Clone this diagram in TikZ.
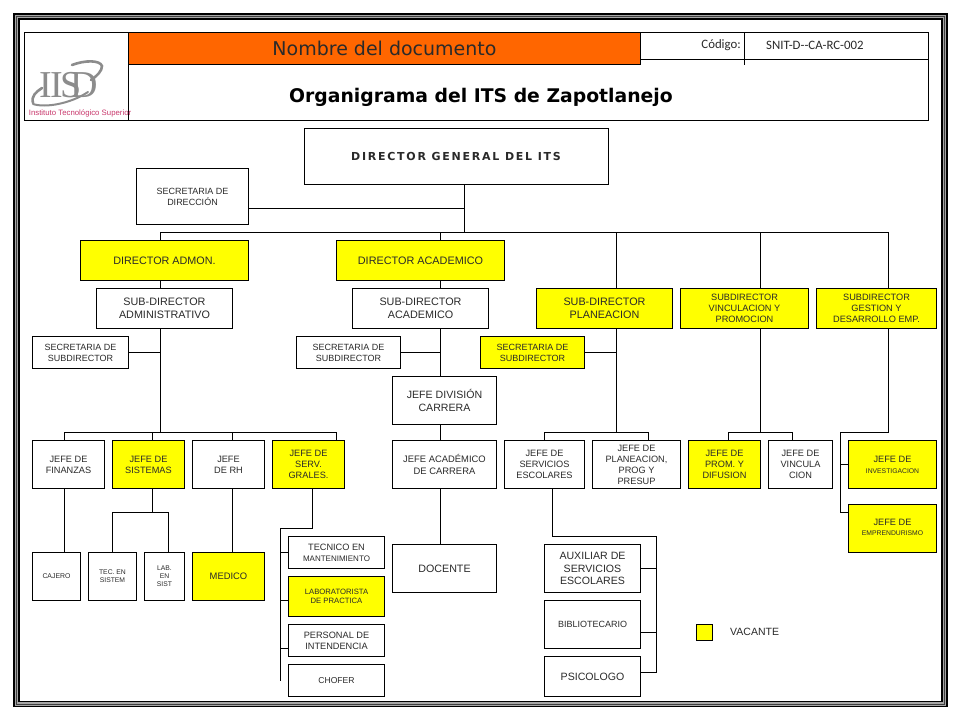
\documentclass[tikz,border=0pt]{standalone}
\usepackage{fontspec}
\setmainfont{Liberation Sans}
\newfontfamily\djv{DejaVu Sans}
\newfontfamily\djvw[LetterSpace=16]{DejaVu Sans}
\newfontfamily\crl{Carlito}
\newfontfamily\lsf{Liberation Serif}
\definecolor{vac}{HTML}{FFFF00}
\definecolor{ora}{HTML}{FF6600}
\definecolor{txt}{HTML}{2A2A2A}
\definecolor{logog}{HTML}{8C8C8C}
\definecolor{logor}{HTML}{C9386C}
\newcommand{\fs}[2]{\fontsize{#1}{#2}\selectfont}
\newcommand{\bx}[8][plainbox]{%
  \pgfmathsetmacro{\ldg}{#7*1.2}%
  \node[#1,font={\fs{#7}{\ldg}},minimum width={(#4-#2)*1pt},minimum height={(#5-#3)*1pt}] (#6) at ({(#2+#4)/2},{(#3+#5)/2}) {#8};}
\tikzset{
  plainbox/.style={draw=black,fill=white,line width=1pt,inner sep=0pt,align=center,text=txt},
  vacbox/.style={plainbox,fill=vac},
  wire/.style={draw=black,line width=1pt,line cap=rect,line join=miter},
}
\begin{document}
\begin{tikzpicture}[x=1pt,y=-1pt]
\useasboundingbox (0,0) rectangle (960,720);
\fill[white] (0,0) rectangle (960,720);
% frame
\draw[black,line width=6.6pt] (16.2,16.2) rectangle (944.3,704);
\draw[gray!70,line width=3.4pt] (16.2,16.2) rectangle (944.3,704);
\draw[black!75,line width=.8pt] (16.2,16.2) rectangle (944.3,704);
% header
\draw[black,line width=1pt] (24.5,32.5) rectangle (928.5,120.2);
\draw[black,line width=1pt] (128.5,32.5) -- (128.5,120.2);
\draw[black,line width=1pt] (640.5,59.5) -- (928.5,59.5);
\draw[black,line width=1pt] (744.5,32.5) -- (744.5,65);
\node[draw=black,fill=ora,line width=1pt,inner sep=0pt,minimum width=512pt,minimum height=32.5pt] (hdr) at (384.5,48.7) {\djv\fs{19}{22}\color{txt}Nombre del documento};
\node[inner sep=0pt] (ttl) at (481,97) {\djv\bfseries\fs{18.8}{22}\color{black}Organigrama del ITS de Zapotlanejo};
\node[inner sep=0pt,anchor=east] (cod) at (741,45) {\crl\fs{12.8}{14}\color{txt}Código:};
\node[inner sep=0pt,anchor=west] (codv) at (766,45) {\crl\fs{12.8}{14}\color{txt}SNIT-D--CA-RC-002};
% logo
\draw[logog,line width=2.6pt,line cap=round] (33,103) .. controls (31,96) and (36,92) .. (42,88);
\draw[logog,line width=2pt,line cap=round] (33,104) .. controls (45,108) and (70,104) .. (88,92);
\draw[logog,line width=2.6pt,line cap=round] (72,65) .. controls (85,60) and (100,60) .. (102,66) .. controls (102,71) and (97,76) .. (91,80);
\node[inner sep=0pt,logog] (li1) at (46,85) {\lsf\fs{38}{38}I};
\node[inner sep=0pt,logog] (li2) at (57,85) {\lsf\fs{38}{38}I};
\node[inner sep=0pt,logog] (ls) at (71,85) {\lsf\fs{38}{38}S};
\node[inner sep=0pt,logog] (ld) at (84,85) {\lsf\fs{38}{38}D};
\node[inner sep=0pt,anchor=west,logor] (lt) at (28.7,113.3) {\fs{7.8}{9}Instituto Tecnológico Superior};

% boxes
\bx{304}{128}{608}{184.2}{dg}{11}{\djvw\bfseries DIRECTOR GENERAL DEL ITS}
\bx{136.5}{168.5}{248.5}{224.5}{secd}{9}{SECRETARIA DE\\DIRECCIÓN}
\bx[vacbox]{80.5}{240.5}{248.5}{280.5}{dadm}{10.8}{DIRECTOR ADMON.}
\bx[vacbox]{336.5}{240.5}{504.5}{280.5}{daca}{10.85}{DIRECTOR ACADEMICO}
\bx{96.5}{288.5}{232.5}{328.5}{sadm}{10.8}{SUB-DIRECTOR\\ADMINISTRATIVO}
\bx{352.5}{288.5}{488.5}{328.5}{saca}{10.8}{SUB-DIRECTOR\\ACADEMICO}
\bx[vacbox]{536.5}{288.5}{672.5}{328.5}{spla}{10.8}{SUB-DIRECTOR\\PLANEACION}
\bx[vacbox]{680.5}{288.5}{808.5}{328.5}{svin}{9.2}{SUBDIRECTOR\\VINCULACION Y\\PROMOCION}
\bx[vacbox]{816.5}{288.5}{936.5}{328.5}{sges}{9.2}{SUBDIRECTOR\\GESTION  Y\\DESARROLLO EMP.}
\bx{32.5}{336.5}{128.5}{368.5}{sec1}{9}{SECRETARIA DE\\SUBDIRECTOR}
\bx{296.5}{336.5}{400.5}{368.5}{sec2}{9}{SECRETARIA DE\\SUBDIRECTOR}
\bx[vacbox]{480.5}{336.5}{584.5}{368.5}{sec3}{9}{SECRETARIA DE\\SUBDIRECTOR}
\bx{392.5}{376.5}{496.5}{424.5}{jdiv}{10.6}{JEFE DIVISIÓN\\CARRERA}
\bx{32.5}{440.5}{104.5}{488.5}{jfin}{9.2}{JEFE DE\\FINANZAS}
\bx[vacbox]{112.5}{440.5}{184.5}{488.5}{jsis}{9.2}{JEFE DE\\SISTEMAS}
\bx{192.5}{440.5}{264.5}{488.5}{jrh}{9.2}{JEFE\\DE RH}
\bx[vacbox]{272.5}{440.5}{344.5}{488.5}{jser}{9.2}{JEFE DE\\SERV.\\GRALES.}
\bx{392.5}{440.5}{496.5}{488.5}{jaca}{9.4}{JEFE  ACADÉMICO\\DE CARRERA}
\bx{504.5}{440.5}{584.5}{488.5}{jesc}{9.2}{JEFE DE\\SERVICIOS\\ESCOLARES}
\bx{592.5}{440.5}{680.5}{488.5}{jpla}{9.2}{JEFE DE\\PLANEACION,\\PROG Y\\PRESUP}
\bx[vacbox]{688.5}{440.5}{760.5}{488.5}{jpro}{9.2}{JEFE DE\\PROM. Y\\DIFUSION}
\bx{768.5}{440.5}{832.5}{488.5}{jvin}{9.2}{JEFE DE\\VINCULA\\CION}
\bx[vacbox]{848.5}{440.5}{936.5}{488.5}{jinv}{9.2}{JEFE DE\\\fs{6.8}{9}INVESTIGACION}
\bx[vacbox]{848.5}{504.5}{936.5}{552.5}{jemp}{9.2}{\raisebox{4pt}{\begin{tabular}{@{}c@{}}JEFE DE\\[-1.5pt]\fs{6.8}{9}EMPRENDURISMO\end{tabular}}}
\bx{32.5}{552.5}{80.5}{600.5}{caj}{6.9}{CAJERO}
\bx{88.5}{552.5}{136.5}{600.5}{tec}{6.8}{TEC. EN\\SISTEM}
\bx{144.5}{552.5}{184.5}{600.5}{lab}{6.8}{LAB.\\EN\\SIST}
\bx[vacbox]{192.5}{552.5}{264.5}{600.5}{med}{9.4}{MEDICO}
\bx{288.5}{536.5}{384.5}{568.5}{tman}{9.2}{TECNICO EN\\\fs{8}{10.5}MANTENIMIENTO}
\bx[vacbox]{288.5}{576.5}{384.5}{616.5}{lpra}{7.7}{LABORATORISTA\\DE PRACTICA}
\bx{288.5}{624.5}{384.5}{656.5}{pint}{9.2}{PERSONAL DE\\INTENDENCIA}
\bx{288.5}{664.5}{384.5}{696.5}{chof}{8.6}{CHOFER}
\bx{392.5}{544.5}{496.5}{592.5}{doc}{10.7}{DOCENTE}
\bx{544.5}{544.5}{640.5}{592.5}{aux}{10.6}{AUXILIAR DE\\SERVICIOS\\ESCOLARES}
\bx{544.5}{600.5}{640.5}{648.5}{bib}{9}{BIBLIOTECARIO}
\bx{544.5}{656.5}{640.5}{696.5}{psi}{10.6}{PSICOLOGO}
\bx[vacbox]{696.5}{624.5}{712.5}{640.5}{vsq}{9}{}
\node[inner sep=0pt,anchor=west,text=txt] (vtx) at (730,632) {\fs{10.5}{13}VACANTE};

% junction coordinates
\coordinate (t0) at (464.5,232.5);
\coordinate (tA) at (160.5,232.5);
\coordinate (tB) at (440.5,232.5);
\coordinate (tC) at (616.5,232.5);
\coordinate (tD) at (760.5,232.5);
\coordinate (tE) at (888.5,232.5);
\coordinate (a0) at (160.5,432.5);
\coordinate (a1) at (64.5,432.5);
\coordinate (a2) at (152.5,432.5);
\coordinate (a3) at (232.5,432.5);
\coordinate (a4) at (336.5,432.5);
\coordinate (p0) at (616.5,432.5);
\coordinate (p1) at (544.5,432.5);
\coordinate (p2) at (648.5,432.5);
\coordinate (v0) at (760.5,432.5);
\coordinate (v1) at (728.5,432.5);
\coordinate (v2) at (792.5,432.5);
\coordinate (g0) at (888.5,432.5);
\coordinate (g1) at (840.5,432.5);
\coordinate (g2) at (840.5,512.5);
\coordinate (g3) at (840.5,464.5);
\coordinate (si0) at (152.5,512.5);
\coordinate (si1) at (112.5,512.5);
\coordinate (si2) at (168.5,512.5);
\coordinate (se0) at (312.5,528.5);
\coordinate (se1) at (280.5,528.5);
\coordinate (se2) at (280.5,680.5);
\coordinate (se3) at (280.5,552.5);
\coordinate (se4) at (280.5,600.5);
\coordinate (se5) at (280.5,648.5);
\coordinate (es0) at (552.5,536.5);
\coordinate (es1) at (656.5,536.5);
\coordinate (es2) at (656.5,568.5);
\coordinate (es3) at (656.5,632.5);
\coordinate (es4) at (656.5,672.5);
\coordinate (d0) at (464.5,208.5);

% connectors
\draw[wire] (dg.south -| t0) -- (t0);
\draw[wire] (tA) -- (tE);
\draw[wire] (secd.east |- d0) -- (d0);
\draw[wire] (tA) -- (dadm.north -| tA);
\draw[wire] (tB) -- (daca.north -| tB);
\draw[wire] (tC) -- (spla.north -| tC);
\draw[wire] (tD) -- (svin.north -| tD);
\draw[wire] (tE) -- (sges.north -| tE);
\draw[wire] (dadm.south -| tA) -- (sadm.north -| tA);
\draw[wire] (daca.south -| tB) -- (saca.north -| tB);
\draw[wire] (sadm.south -| a0) -- (a0);
\draw[wire] (sec1.east) -- (sec1.east -| a0);
\draw[wire] (a1) -- (a4);
\draw[wire] (a1) -- (jfin.north -| a1);
\draw[wire] (a2) -- (jsis.north -| a2);
\draw[wire] (a3) -- (jrh.north -| a3);
\draw[wire] (a4) -- (jser.north -| a4);
\draw[wire] (saca.south -| tB) -- (jdiv.north -| tB);
\draw[wire] (sec2.east) -- (sec2.east -| tB);
\draw[wire] (jdiv.south -| tB) -- (jaca.north -| tB);
\draw[wire] (jaca.south -| tB) -- (doc.north -| tB);
\draw[wire] (spla.south -| p0) -- (p0);
\draw[wire] (sec3.east) -- (sec3.east -| p0);
\draw[wire] (p1) -- (p2);
\draw[wire] (p1) -- (jesc.north -| p1);
\draw[wire] (p2) -- (jpla.north -| p2);
\draw[wire] (svin.south -| v0) -- (v0);
\draw[wire] (v1) -- (v2);
\draw[wire] (v1) -- (jpro.north -| v1);
\draw[wire] (v2) -- (jvin.north -| v2);
\draw[wire] (sges.south -| g0) -- (g0) -- (g1) -- (g2) -- (jemp.west |- g2);
\draw[wire] (g3) -- (jinv.west |- g3);
\draw[wire] (jfin.south -| a1) -- (caj.north -| a1);
\draw[wire] (jsis.south -| si0) -- (si0);
\draw[wire] (si1) -- (si2);
\draw[wire] (si1) -- (tec.north -| si1);
\draw[wire] (si2) -- (lab.north -| si2);
\draw[wire] (jrh.south -| a3) -- (med.north -| a3);
\draw[wire] (jser.south -| se0) -- (se0) -- (se1) -- (se2);
\draw[wire] (se3) -- (tman.west |- se3);
\draw[wire] (se4) -- (lpra.west |- se4);
\draw[wire] (se5) -- (pint.west |- se5);
\draw[wire] (jesc.south -| es0) -- (es0) -- (es1) -- (es4) -- (psi.east |- es4);
\draw[wire] (es2) -- (aux.east |- es2);
\draw[wire] (es3) -- (bib.east |- es3);
\end{tikzpicture}
\end{document}
